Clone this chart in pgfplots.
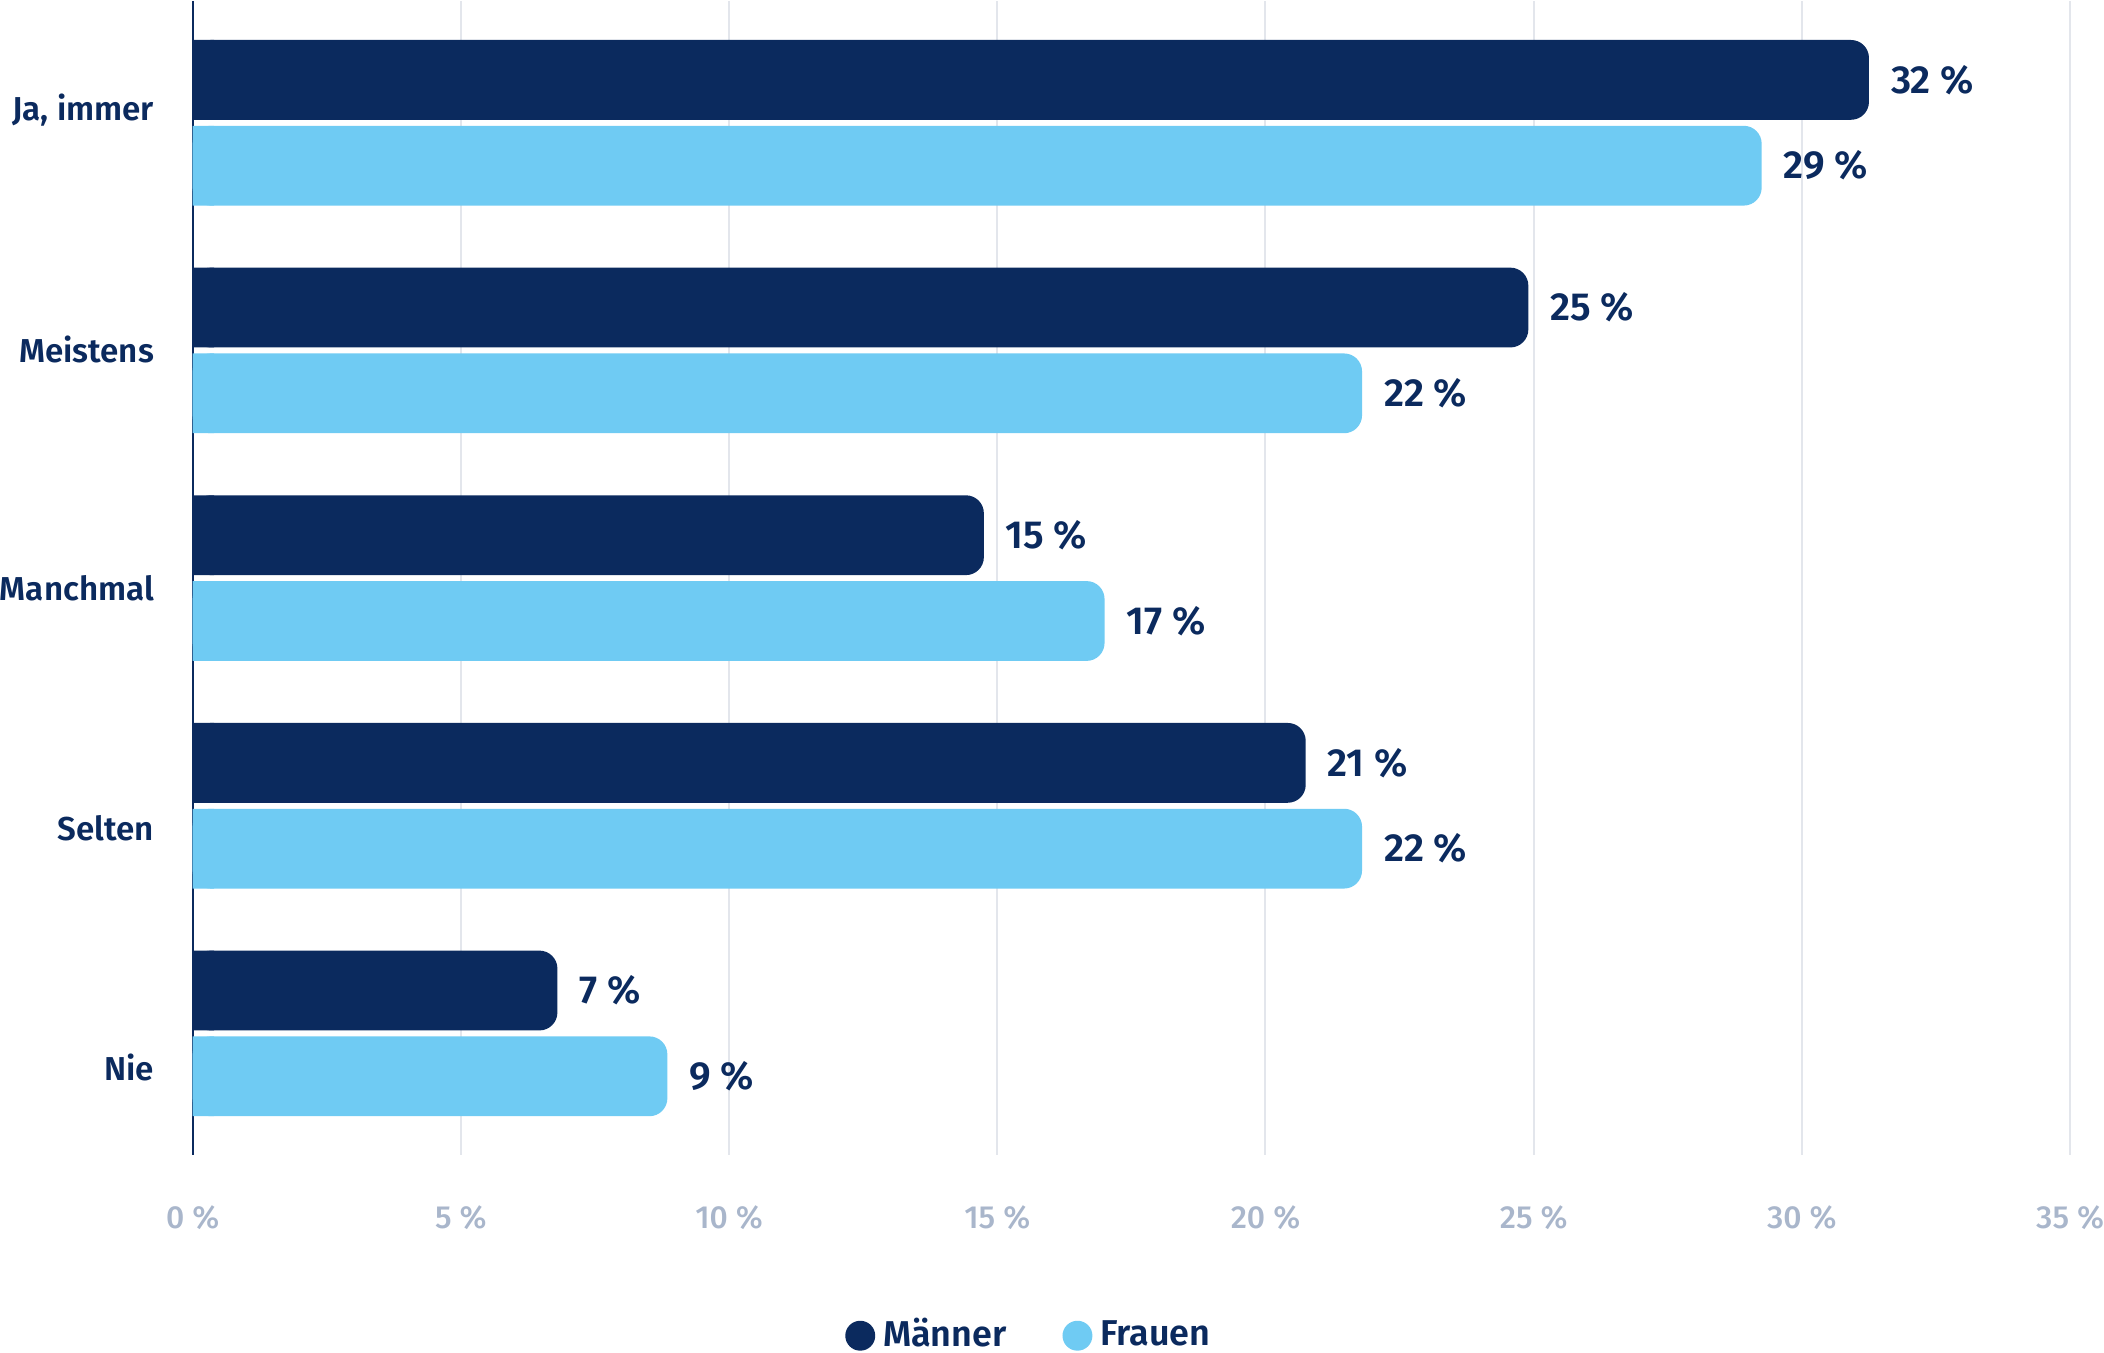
\documentclass[border=0pt]{standalone}
\usepackage{fontspec}
\setmainfont{Fira Sans}[UprightFont={* Medium}, BoldFont={* SemiBold}]
\usepackage{pgfplots}
\pgfplotsset{compat=1.18}
\usepackage{pgfplotstable}

\definecolor{navy}{HTML}{0B2A5E}
\definecolor{sky}{HTML}{6FCBF3}
\definecolor{tickgray}{HTML}{A9B6CB}
\definecolor{gridgray}{HTML}{E3E6EC}

% cat: 0 Ja immer, 1 Meistens, 2 Manchmal, 3 Selten, 4 Nie
\pgfplotstableread{
cat val lab
0 31.25 32
1 24.9 25
2 14.75 15
3 20.75 21
4 6.8 7
}\maenner
\pgfplotstableread{
cat val lab
0 29.25 29
1 21.8 22
2 17.0 17
3 21.8 22
4 8.85 9
}\frauen

\begin{document}
\begin{tikzpicture}
\begin{axis}[
  xbar,
  scale only axis,
  width=470.5pt, height=289.25pt,
  xmin=0, xmax=35,
  ymin=-0.535, ymax=4.535,
  y dir=reverse,
  bar width=20pt,
  axis lines=left,
  x axis line style={draw=none},
  y axis line style={navy, line width=0.5pt, -},
  major tick length=0pt,
  xtick={0,5,10,15,20,25,30,35},
  xticklabels={0 \%, 5 \%, 10 \%, 15 \%, 20 \%, 25 \%, 30 \%, 35 \%},
  xticklabel style={text=tickgray, font=\fontsize{8}{9}\selectfont, inner xsep=0pt, yshift=-9pt},
  % the category names sit on a slightly wider pitch than the bars
  ytick={-0.057,0.994,2.046,3.097,4.149},
  yticklabels={{Ja, immer}, Meistens, Manchmal, Selten, Nie},
  yticklabel style={text=navy, font=\bfseries\fontsize{8.3}{10}\selectfont, inner xsep=0pt, xshift=-9.5pt},
  xmajorgrids,
  grid style={gridgray, line width=0.5pt},
  legend style={draw=none, fill=none, inner sep=0pt, nodes={inner ysep=0pt},
    at={(axis description cs:0.447,-0.172)}, anchor=south,
    legend columns=2, font=\bfseries\fontsize{9}{11}\selectfont, text=navy,
    /tikz/every even column/.append style={column sep=12pt}},
  legend image code/.code={\fill[#1, draw=none] (3.75pt,0pt) circle (3.75pt);},
  every node near coord/.append style={text=navy, font=\bfseries\fontsize{9.8}{11}\selectfont, anchor=west, xshift=2pt},
]
\addplot[fill=navy, draw=none, rounded corners=4.5pt, bar shift=10.75pt,
  point meta=explicit symbolic, nodes near coords={\pgfplotspointmeta~\%}]
  table[x=val, y=cat, meta=lab] {\maenner};
\addlegendentry{Männer}
\addplot[fill=sky, draw=none, rounded corners=4.5pt, bar shift=-10.75pt,
  point meta=explicit symbolic, nodes near coords={\pgfplotspointmeta~\%}]
  table[x=val, y=cat, meta=lab] {\frauen};
\addlegendentry{Frauen}
% square off the left ends of the bars
\addplot[fill=navy, draw=none, bar shift=10.75pt, forget plot] table[x expr=0.4, y=cat] {\maenner};
\addplot[fill=sky, draw=none, bar shift=-10.75pt, forget plot] table[x expr=0.4, y=cat] {\frauen};
\end{axis}
\end{tikzpicture}
\end{document}
